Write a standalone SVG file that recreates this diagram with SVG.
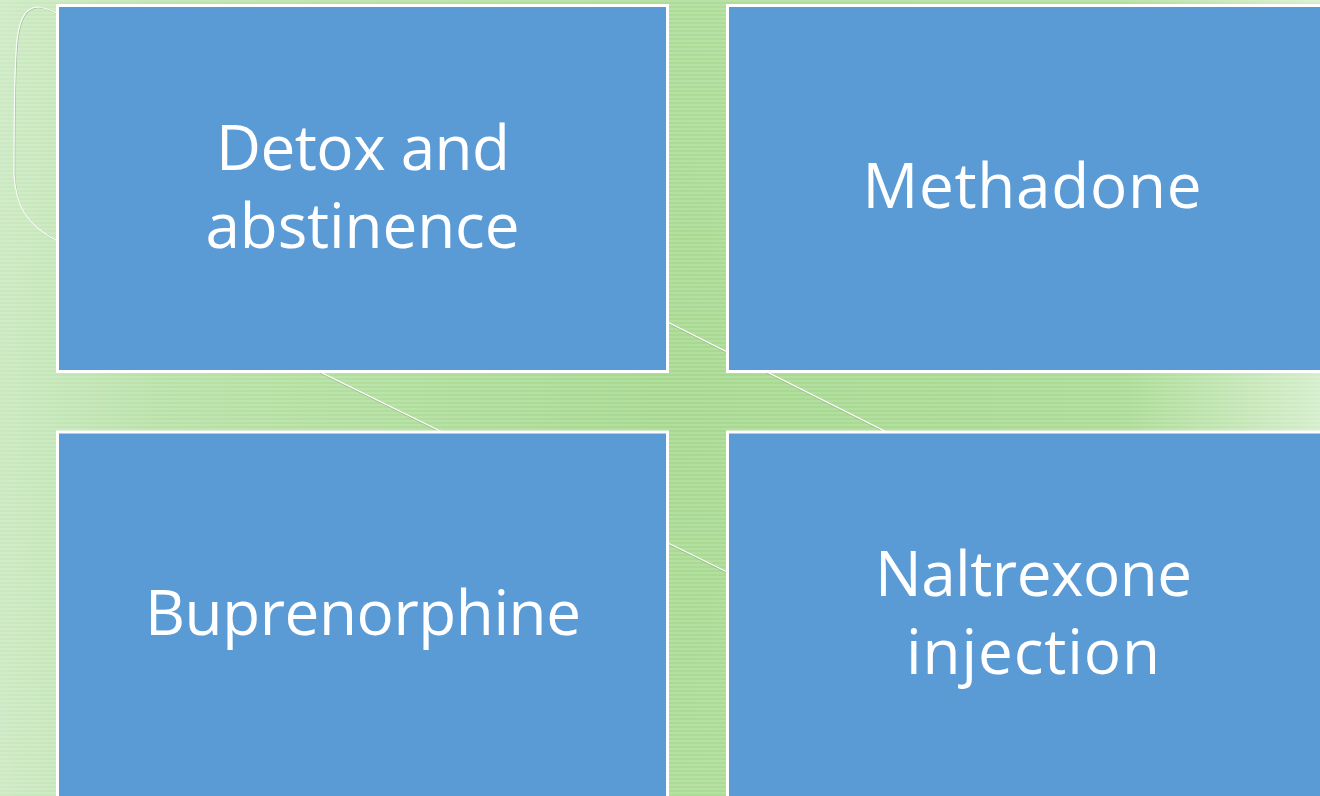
<svg xmlns="http://www.w3.org/2000/svg" width="1320" height="796" viewBox="0 0 1320 796">
  <style>
    .box { fill: #5B9BD5; stroke: #FFFFFF; stroke-width: 3; }
    .label { font-family: "Open Sans", "Liberation Sans", sans-serif; font-size: 62px; fill: #FFFFFF; text-anchor: middle; }
    .deco { fill: none; stroke: #FFFFFF; stroke-width: 1.2; stroke-opacity: 0.95; }
    .decoShadow { fill: none; stroke: #7a8f74; stroke-width: 1; stroke-opacity: 0.5; }
  </style>
  <defs>
    <linearGradient id="bgGrad" x1="0" y1="0" x2="1" y2="0">
      <stop offset="0" stop-color="#c9e8bf"/>
      <stop offset="0.12" stop-color="#b8e1a7"/>
      <stop offset="0.5" stop-color="#a6d98f"/>
      <stop offset="0.85" stop-color="#abdb95"/>
      <stop offset="1" stop-color="#d4edca"/>
    </linearGradient>
    <linearGradient id="bgVert" x1="0" y1="0" x2="0" y2="1">
      <stop offset="0" stop-color="#ffffff" stop-opacity="0.08"/>
      <stop offset="0.5" stop-color="#ffffff" stop-opacity="0"/>
      <stop offset="1" stop-color="#ffffff" stop-opacity="0.06"/>
    </linearGradient>
    <pattern id="stripes" x="0" y="0" width="8" height="4" patternUnits="userSpaceOnUse">
      <rect x="0" y="0" width="8" height="2" fill="#ffffff" fill-opacity="0.14"/>
    </pattern>
  </defs>

  <rect x="0" y="0" width="1320" height="796" fill="url(#bgGrad)"/>
  <rect x="0" y="0" width="1320" height="796" fill="url(#bgVert)"/>
  <rect x="0" y="0" width="1320" height="796" fill="url(#stripes)"/>

  <g id="decoration">
    <path class="decoShadow" d="M57,13 C48,9 43,7 37,7 C28,8 20,14 17,40 C14,70 14,140 14,175 C16,205 26,225 57,241" transform="translate(0.8,0.8)"/>
    <path class="deco" d="M57,13 C48,9 43,7 37,7 C28,8 20,14 17,40 C14,70 14,140 14,175 C16,205 26,225 57,241"/>
    <line class="decoShadow" x1="560" y1="268" x2="1000" y2="489" transform="translate(0,1)"/>
    <line class="deco" x1="560" y1="268" x2="1000" y2="489"/>
    <line class="decoShadow" x1="200" y1="313" x2="900" y2="657" transform="translate(0,1)"/>
    <line class="deco" x1="200" y1="313" x2="900" y2="657"/>
  </g>

  <g id="connectors"></g>

  <g id="node-detox">
    <rect class="box" x="57.5" y="5.5" width="610" height="366"/>
    <text class="label" x="363" y="170" textLength="294" lengthAdjust="spacing">Detox and</text>
    <text class="label" x="362.5" y="248" textLength="314" lengthAdjust="spacing">abstinence</text>
  </g>
  <g id="node-methadone">
    <rect class="box" x="727.5" y="5.5" width="610" height="366"/>
    <text class="label" x="1032" y="208" textLength="339" lengthAdjust="spacing">Methadone</text>
  </g>
  <g id="node-buprenorphine">
    <rect class="box" x="57.5" y="432" width="610" height="366"/>
    <text class="label" x="363" y="635" textLength="436" lengthAdjust="spacing">Buprenorphine</text>
  </g>
  <g id="node-naltrexone">
    <rect class="box" x="727.5" y="432" width="610" height="366"/>
    <text class="label" x="1033.5" y="596" textLength="317" lengthAdjust="spacing">Naltrexone</text>
    <text class="label" x="1033" y="674" textLength="254" lengthAdjust="spacing">injection</text>
  </g>
</svg>
